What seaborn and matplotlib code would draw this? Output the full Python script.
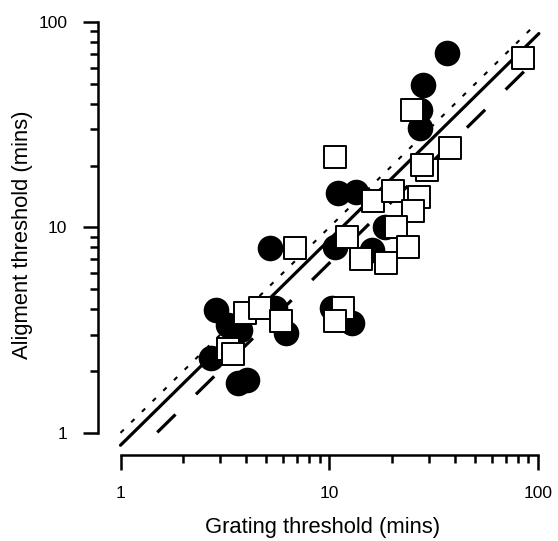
import numpy as np
import pandas as pd
import matplotlib
matplotlib.use("Agg")
import matplotlib.pyplot as plt
import seaborn as sns
from matplotlib.ticker import FixedLocator, NullFormatter, FixedFormatter

# ---- data ----
circle_x = [36.6, 28.1, 27.2, 27.2, 11.0, 13.5, 18.5, 10.6, 16.0, 5.18,
            2.86, 3.26, 3.72, 5.48, 6.19, 10.3, 12.8, 2.70, 3.64, 4.02]
circle_y = [70.7, 49.4, 37.3, 30.5, 14.7, 14.9, 10.05, 8.04, 7.78, 7.95,
            3.97, 3.35, 3.17, 4.06, 3.07, 4.06, 3.43, 2.32, 1.75, 1.81]

square_x = [84.7, 24.9, 37.8, 29.3, 27.8, 16.2, 20.2, 26.9, 25.1, 20.8,
            12.1, 23.8, 14.2, 18.7, 10.7, 6.83, 3.93, 4.64, 5.85, 11.7,
            10.7, 3.29, 3.45]
square_y = [66.8, 37.3, 24.4, 19.0, 20.1, 13.5, 15.0, 14.1, 12.0, 10.05,
            9.0, 8.04, 7.03, 6.72, 22.0, 7.95, 3.84, 4.06, 3.51, 4.06,
            3.51, 2.56, 2.42]

# reference lines y = k * x
identity_k = 1.0
identity_x = [1.0, 97.0]
fit_k = 0.87
fit_x = [1.0, 101.0]
lower_k = 0.67
lower_x = [1.5, 100.0]

xticks = [1, 10, 100]
xtick_labels = ["1", "10", "100"]
yticks = [1, 10, 100]
ytick_labels = ["1", "10", "100"]
minor_ticks = [2, 3, 4, 5, 6, 7, 8, 9, 20, 30, 40, 50, 60, 70, 80, 90]

# ---- plotting ----
sns.set_style("white")
plt.rcParams["font.family"] = ["Liberation Sans", "DejaVu Sans"]
plt.rcParams["text.color"] = "black"
plt.rcParams["axes.labelcolor"] = "black"
plt.rcParams["xtick.color"] = "black"
plt.rcParams["ytick.color"] = "black"

fig = plt.figure(figsize=(5.58, 5.41), dpi=100)
ax = fig.add_axes([0.1756, 0.159, 0.804, 0.816])
ax.set_xscale("log")
ax.set_yscale("log")

df_c = pd.DataFrame({"x": circle_x, "y": circle_y})
df_s = pd.DataFrame({"x": square_x, "y": square_y})

lx = np.array(identity_x)
sns.lineplot(x=lx, y=identity_k * lx, ax=ax, color="black", lw=1.5,
             linestyle=(0, (2.2, 5.0)), zorder=2)
lx = np.array(fit_x)
sns.lineplot(x=lx, y=fit_k * lx, ax=ax, color="black", lw=2.3, zorder=2)
lx = np.array(lower_x)
sns.lineplot(x=lx, y=lower_k * lx, ax=ax, color="black", lw=2.3,
             linestyle=(0, (8, 9)), zorder=2)

sns.scatterplot(data=df_c, x="x", y="y", ax=ax, marker="o", s=340,
                color="black", edgecolor="black", linewidth=0, zorder=3)
sns.scatterplot(data=df_s, x="x", y="y", ax=ax, marker="s", s=230,
                facecolor="white", edgecolor="black", linewidth=1.4, zorder=4)

ax.set_xlim(0.78, 110)
ax.set_ylim(0.78, 110)

for side in ["top", "right"]:
    ax.spines[side].set_visible(False)
for side in ["bottom", "left"]:
    ax.spines[side].set_linewidth(1.8)
    ax.spines[side].set_color("black")
ax.spines["bottom"].set_bounds(1, 100)
ax.spines["left"].set_bounds(1, 100)

ax.xaxis.set_major_locator(FixedLocator(xticks))
ax.xaxis.set_major_formatter(FixedFormatter(xtick_labels))
ax.yaxis.set_major_locator(FixedLocator(yticks))
ax.yaxis.set_major_formatter(FixedFormatter(ytick_labels))
ax.xaxis.set_minor_locator(FixedLocator(minor_ticks))
ax.yaxis.set_minor_locator(FixedLocator(minor_ticks))
ax.xaxis.set_minor_formatter(NullFormatter())
ax.yaxis.set_minor_formatter(NullFormatter())

ax.tick_params(which="major", direction="out", length=11, width=1.8,
               color="black", labelcolor="black", labelsize=12.5, pad=11)
ax.tick_params(which="minor", direction="out", length=6, width=1.8,
               color="black")
ax.tick_params(axis="x", which="both", bottom=True)
ax.tick_params(axis="y", which="both", left=True)

ax.set_xlabel("Grating threshold (mins)", fontsize=15.8, labelpad=12,
              color="black")
ax.set_ylabel("Aligment threshold (mins)", fontsize=15.8, labelpad=4,
              color="black")
ax.grid(False)

fig.savefig("out.png", dpi=100)
